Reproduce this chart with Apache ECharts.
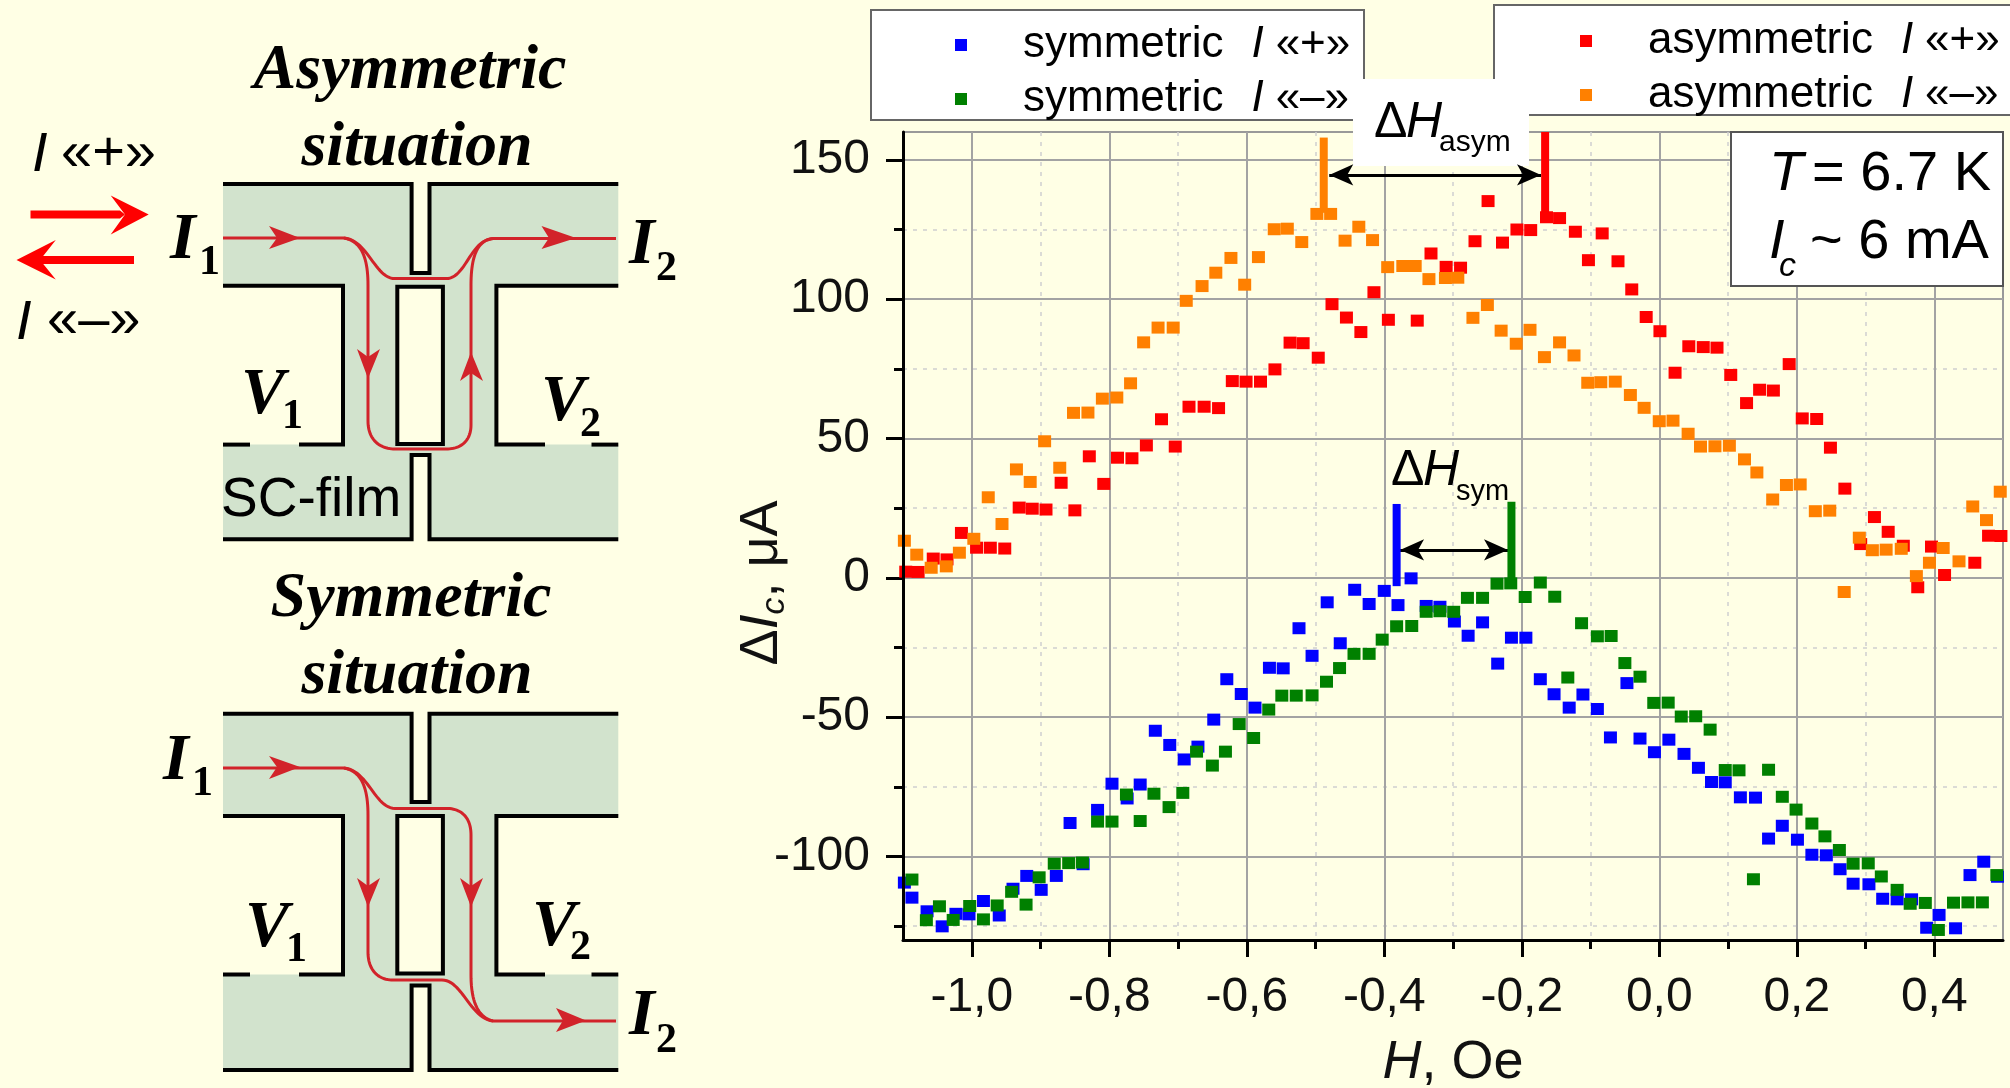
<!DOCTYPE html>
<html>
<head>
<meta charset="utf-8">
<style>html,body{margin:0;padding:0;background:#FFFFE5}#c{width:2010px;height:1088px}</style>
<script src="https://cdn.jsdelivr.net/npm/echarts@6/dist/echarts.min.js"></script>
</head>
<body>
<div id="c"></div>
<script>
const xMajorTicks = [-1.0,-0.8,-0.6,-0.4,-0.2,0.0,0.2,0.4];
const xMinorTicks = [-0.9,-0.7,-0.5,-0.3,-0.1,0.1,0.3];
const yMajorTicks = [-100,-50,0,50,100,150];
const yMinorTicks = [-125,-75,-25,25,75,125];

const symPlus = [[-1.098,-109.4],[-1.087,-114.8],[-1.065,-119.7],[-1.043,-125.1],[-1.023,-120.6],[-1.004,-120.8],[-0.983,-116],[-0.960,-121.2],[-0.940,-111.6],[-0.920,-107],[-0.899,-112],[-0.877,-107],[-0.857,-88],[-0.838,-102.8],[-0.817,-83.3],[-0.796,-73.9],[-0.774,-79.2],[-0.755,-74.2],[-0.733,-54.9],[-0.712,-60],[-0.691,-65.2],[-0.671,-60.6],[-0.648,-50.9],[-0.629,-36.4],[-0.608,-41.7],[-0.588,-46.6],[-0.567,-32.3],[-0.547,-32.5],[-0.524,-18.1],[-0.505,-28],[-0.483,-8.8],[-0.464,-23.5],[-0.443,-4.3],[-0.422,-9.4],[-0.400,-4.7],[-0.380,-9.8],[-0.361,-0.2],[-0.339,-10.1],[-0.319,-10.4],[-0.298,-15.7],[-0.278,-20.8],[-0.257,-16],[-0.235,-30.8],[-0.215,-21.5],[-0.194,-21.5],[-0.173,-36.4],[-0.153,-41.8],[-0.131,-46.6],[-0.111,-41.9],[-0.090,-47.1],[-0.071,-57.3],[-0.047,-37.8],[-0.028,-57.7],[-0.007,-62.6],[0.014,-58.1],[0.036,-63.2],[0.057,-68.2],[0.076,-73.3],[0.096,-73.4],[0.118,-78.8],[0.140,-78.9],[0.159,-93.6],[0.179,-89],[0.201,-94],[0.222,-99.4],[0.243,-99.6],[0.263,-104.6],[0.282,-109.8],[0.305,-110],[0.325,-115.2],[0.346,-115.4],[0.367,-115.4],[0.389,-125.6],[0.407,-121],[0.431,-125.8],[0.452,-106.7],[0.472,-101.9],[0.492,-107.3]];
const symMinus = [[-1.087,-108.3],[-1.066,-122.9],[-1.047,-117.9],[-1.027,-122.8],[-1.003,-117.8],[-0.983,-122.6],[-0.963,-117.6],[-0.942,-112.7],[-0.921,-117.3],[-0.902,-107.5],[-0.880,-102.6],[-0.859,-102.4],[-0.839,-102.2],[-0.817,-87.5],[-0.796,-87.5],[-0.775,-77.8],[-0.755,-87.3],[-0.735,-77.5],[-0.713,-82.3],[-0.693,-77.2],[-0.673,-62.4],[-0.650,-67.4],[-0.631,-62.4],[-0.611,-52.5],[-0.590,-57.5],[-0.568,-47.3],[-0.549,-42.3],[-0.528,-42.3],[-0.505,-42.2],[-0.484,-37.3],[-0.465,-32.4],[-0.444,-27.3],[-0.422,-27.3],[-0.403,-22.2],[-0.382,-17.4],[-0.360,-17.3],[-0.339,-12.2],[-0.319,-12],[-0.299,-12.2],[-0.279,-7.2],[-0.257,-7.2],[-0.236,-2.1],[-0.216,-2],[-0.195,-6.9],[-0.173,-1.7],[-0.152,-6.8],[-0.133,-35.8],[-0.113,-16.3],[-0.090,-21],[-0.070,-20.9],[-0.050,-30.6],[-0.028,-35.5],[-0.008,-44.9],[0.013,-44.8],[0.032,-49.8],[0.053,-49.7],[0.074,-54.5],[0.096,-69],[0.116,-69.1],[0.137,-108.2],[0.159,-68.9],[0.179,-78.6],[0.199,-83.2],[0.222,-88.2],[0.241,-92.8],[0.262,-97.7],[0.282,-102.6],[0.304,-102.5],[0.323,-107.2],[0.346,-112],[0.365,-117],[0.387,-116.7],[0.406,-126.4],[0.428,-116.6],[0.449,-116.5],[0.470,-116.5],[0.491,-106.7]];
const asymPlus = [[-1.096,2.2],[-1.078,2.1],[-1.056,6.9],[-1.036,6.6],[-1.015,16.1],[-0.993,10.8],[-0.973,10.8],[-0.952,10.5],[-0.931,25.2],[-0.912,24.8],[-0.892,24.5],[-0.870,34.1],[-0.850,24.2],[-0.829,43.6],[-0.808,33.7],[-0.788,43.1],[-0.767,42.9],[-0.746,47.5],[-0.724,56.9],[-0.704,47.1],[-0.684,61.4],[-0.662,61.4],[-0.641,60.9],[-0.621,70.6],[-0.601,70.4],[-0.580,70.4],[-0.559,74.8],[-0.537,84.4],[-0.518,84.2],[-0.496,79],[-0.476,98.2],[-0.455,93.4],[-0.434,88.2],[-0.415,102.5],[-0.394,92.6],[-0.352,92.3],[-0.332,116.4],[-0.310,111.6],[-0.289,111.3],[-0.268,120.8],[-0.249,135.2],[-0.228,120.3],[-0.207,125],[-0.187,124.8],[-0.164,129.4],[-0.145,129.1],[-0.122,124.2],[-0.103,114],[-0.083,123.6],[-0.060,113.6],[-0.040,103.5],[-0.019,93.6],[0.001,88.5],[0.023,73.6],[0.043,83.1],[0.064,82.8],[0.084,82.6],[0.104,72.8],[0.127,62.7],[0.146,67.5],[0.166,67.2],[0.189,76.7],[0.208,57.2],[0.229,57],[0.249,46.7],[0.270,32],[0.293,12.1],[0.313,21.8],[0.333,16.5],[0.355,11.5],[0.376,-3.4],[0.396,11.2],[0.415,1],[0.459,5.4],[0.479,15.1],[0.497,15]];
const asymMinus = [[-1.098,13.3],[-1.080,8.3],[-1.059,3.6],[-1.037,4.1],[-1.018,9],[-0.997,14],[-0.976,28.9],[-0.956,19.3],[-0.935,38.9],[-0.915,34.4],[-0.894,49],[-0.872,39.5],[-0.852,59.2],[-0.831,59.3],[-0.810,64.3],[-0.789,64.7],[-0.769,69.8],[-0.750,84.5],[-0.729,89.8],[-0.707,89.8],[-0.688,99.4],[-0.665,104.7],[-0.645,109.5],[-0.623,114.8],[-0.603,105.2],[-0.583,115.1],[-0.560,125.1],[-0.541,125.3],[-0.520,120.5],[-0.498,130.6],[-0.478,130.6],[-0.457,121],[-0.437,126],[-0.417,121.2],[-0.395,111.5],[-0.373,111.9],[-0.355,111.9],[-0.335,107.2],[-0.311,107.6],[-0.293,107.7],[-0.271,93.3],[-0.250,97.9],[-0.230,88.7],[-0.208,84],[-0.188,89],[-0.167,79.2],[-0.145,84.5],[-0.124,79.8],[-0.104,70],[-0.085,70.2],[-0.064,70.4],[-0.042,65.6],[-0.022,61],[0,56.2],[0.020,56.4],[0.042,51.7],[0.060,47.1],[0.081,47.2],[0.102,47.4],[0.124,42.5],[0.142,37.8],[0.165,28.1],[0.185,33.3],[0.205,33.5],[0.227,23.9],[0.248,24.1],[0.269,-5.1],[0.291,14.4],[0.310,9.9],[0.330,10.1],[0.352,10.4],[0.374,0.6],[0.393,5.4],[0.413,10.7],[0.436,5.9],[0.456,25.6],[0.476,20.7],[0.496,30.9]];

const barAsymMinus = [[-0.488,131],[-0.488,158]];
const barAsymPlus = [[-0.166,128],[-0.166,160]];
const barSymPlus = [[-0.382,-3],[-0.382,26.5]];
const barSymMinus = [[-0.215,-3.8],[-0.215,27.3]];
const spanAsym = [[-0.480,144.6],[-0.172,144.6]];
const spanSym = [[-0.377,10],[-0.220,10]];

const BG = '#FFFFE5', FILM = '#D2E3CD', CURRENT = '#D2232A', ARROW = '#FF0000';
const SANS = '"Liberation Sans", Arial, sans-serif', SERIF = '"Liberation Serif", "Times New Roman", serif';

function txt(text, x, base, size, opt) {
  opt = opt || {};
  return { type:'text', z:20, silent:true, style:{
    text, x, y: base - 0.27*size,
    fill: '#000', textAlign: opt.align||'left', textVerticalAlign:'middle',
    fontFamily: opt.family||SANS, fontSize:size,
    fontStyle: opt.italic?'italic':'normal', fontWeight: opt.bold?'bold':'normal' } };
}
// minimal path flattening: the graphic component has polygons and polylines only
function subpaths(d) {
  const toks = d.match(/[MHVLCZ]|-?[\d.]+/g), subs = [];
  let i = 0, cur = null, x = 0, y = 0, cmd = null;
  const num = () => parseFloat(toks[i++]);
  while (i < toks.length) {
    if (/[A-Z]/.test(toks[i])) cmd = toks[i++];
    if (cmd === 'M') { x = num(); y = num(); cur = {pts:[[x,y]], closed:false}; subs.push(cur); cmd = 'L'; }
    else if (cmd === 'L') { x = num(); y = num(); cur.pts.push([x,y]); }
    else if (cmd === 'H') { x = num(); cur.pts.push([x,y]); }
    else if (cmd === 'V') { y = num(); cur.pts.push([x,y]); }
    else if (cmd === 'C') {
      const a=num(),b=num(),c=num(),e=num(),f=num(),g=num();
      for (let t=1;t<=24;t++){ const s=t/24,u=1-s;
        cur.pts.push([u*u*u*x+3*u*u*s*a+3*u*s*s*c+s*s*s*f, u*u*u*y+3*u*u*s*b+3*u*s*s*e+s*s*s*g]); }
      x=f; y=g;
    }
    else if (cmd === 'Z') { cur.closed = true; }
  }
  return subs;
}
function path(d, fill, stroke, lw) {
  return subpaths(d).map(s => ({
    type: fill ? 'polygon' : 'polyline', z:3, silent:true,
    shape:{points:s.pts},
    style:{fill:fill||'none', stroke:stroke||'none', lineWidth:lw||0, lineJoin:'miter'} }));
}
function box(x,y,w,h,fill,stroke,lw) {
  return { type:'rect', z:3, silent:true, shape:{x,y,width:w,height:h}, style:{fill, stroke:stroke||'none', lineWidth:stroke?(lw||2):0} };
}
function head(pts){ return path('M'+pts.map(p=>p.join(',')).join(' L')+' Z', CURRENT); }
function serifI(sym, sub, x, base, subx, subbase) {
  return [ txt(sym, x, base, 66, {family:SERIF, italic:true, bold:true}),
           txt(sub, subx, subbase, 42, {family:SERIF, bold:true}) ];
}
function schematic(top, bandBot, lowTop, slit1, slit2, bottom, rectTop, rectBot) {
  const fill = `M223,${top} H411.6 V${slit1} H429.5 V${top} H618.3 V${bandBot} H496.4 V${lowTop} H618.3 V${bottom} H429.5 V${slit2} H411.6 V${bottom} H223 V${lowTop} H343 V${bandBot} H223 Z`;
  const s = `M223,${top} H411.6 V${slit1} H429.5 V${top} H618.3 M618.3,${bandBot} H496.4 V${lowTop} H545 M591.5,${lowTop} H618.3 M223,${bottom} H411.6 V${slit2} H429.5 V${bottom} H618.3 M223,${bandBot} H343 V${lowTop} H299 M250,${lowTop} H223`;
  return [].concat(path(fill, FILM), [box(397.3,rectTop,45.6,rectBot-rectTop,BG,'#000',4)], path(s, null, '#000', 4));
}

const graphics = [].concat(
  [ box(871,10,493,110,'#fff','#666'), box(1494,5,530,110,'#fff','#666'),
    box(1353,79,176,87,'#fff'), box(1731,132,272,154,'#fff','#555') ],
  [ txt('T', 1769,190,56,{italic:true}), txt('= 6.7 K', 1812,190,56),
    txt('I', 1769,258,56,{italic:true}), txt('c', 1779,276,34,{italic:true}), txt('~ 6 mA', 1810,258,56),
    txt('Δ', 1374,137,50), txt('H', 1406,137,50,{italic:true}), txt('asym', 1439,151,30),
    txt('Δ', 1391,485,50), txt('H', 1423,485,50,{italic:true}), txt('sym', 1456,500,29) ],
  [ txt('Asymmetric', 410,88.6,64,{family:SERIF,italic:true,bold:true,align:'center'}),
    txt('situation', 417,166,64,{family:SERIF,italic:true,bold:true,align:'center'}) ],
  schematic(184,285.7,444.6,273,455,539.3,286.8,444),
  path('M223,238 H344 C368,240 375,278.6 395,278.6 H446 C466,278.6 470,240 493,238.6 H616',null,CURRENT,3),
  path('M344,238 C360,241 368,255 368,285 V421 C368,440 380,449 395,449 H446 C462,449 471,440 471,425 V285 C471,255 478,240 493,238.6',null,CURRENT,3),
  head([[300,238],[269,226],[277,238],[269,249]]), head([[576,238],[541.5,226],[549,238],[541.5,249]]),
  head([[368,378.6],[357,349],[368,357],[380,349]]), head([[471,352],[460,381],[471,373],[483,381]]),
  path('M30.5,210.5 H120 L125,214.6 L120,218.5 H30.5 Z',ARROW),
  path('M148.7,214.6 L110.7,195.4 L125,214.6 L110.7,234.6 Z',ARROW),
  path('M134,256 H40 L40,264 H134 Z',ARROW),
  path('M16.5,260 L55.8,240 L40,260 L55.8,279.6 Z',ARROW),
  [ txt('I',32,171,56,{italic:true}), txt('«+»',61,170,56),
    txt('I',16,339,56,{italic:true}), txt('«–»',47,337,56),
    txt('SC-film',221,516,55) ],
  serifI('I','1',170,259,199,274), serifI('I','2',629,264,656,280),
  serifI('V','1',241,414,282,428), serifI('V','2',541,421,580,436),
  [ txt('Symmetric', 411,617,64,{family:SERIF,italic:true,bold:true,align:'center'}),
    txt('situation', 417,694,64,{family:SERIF,italic:true,bold:true,align:'center'}) ],
  schematic(713.7,816,974.5,802,985.6,1070,816,973.4),
  path('M223,768 H344 C368,770 375,808.4 395,808.4 H446 C462,808.4 471,818 471,835 V975 C471,1005 480,1018 493,1021 H616',null,CURRENT,3),
  path('M344,768 C360,771 368,785 368,815 V952 C368,970 378,980 393,980 H442 C462,980 470,1018 493,1021',null,CURRENT,3),
  head([[300,767],[269,756],[277,767],[269,779]]), head([[586,1020.6],[556,1008],[563,1020.6],[556,1032]]),
  head([[368,907],[357,878],[368,886],[380,878]]), head([[471,907],[460,878],[471,886],[483,878]]),
  serifI('I','1',163,779.4,192,795), serifI('I','2',629,1034.6,656,1052),
  serifI('V','1',245,947,286,961), serifI('V','2',532,945.5,570,959)
);

function points(name, data, color, z) {
  return { name, type:'scatter', data, symbol:'rect', symbolSize:[13,12], z, silent:true,
           itemStyle:{color, opacity:1} };
}
function bar(data, color) {
  return { type:'line', data, symbol:'none', silent:true, z:6, clip:false, lineStyle:{color, width:8, cap:'butt'} };
}
function span(data) {
  return { type:'line', data:[], silent:true, z:7, symbol:'none', markLine:{ silent:true, animation:false, symbol:['arrow','arrow'], symbolSize:[16,24], label:{show:false},
    lineStyle:{color:'#000', width:3, type:'solid'}, data:[[{coord:data[0]},{coord:data[1]}]] } };
}

const legendRich = {
  a:{fontFamily:SANS, fontSize:44, color:'#000'},
  i:{fontFamily:SANS, fontSize:44, fontStyle:'italic', color:'#000'},
  sp:{fontSize:44, width:28},
  sq:{fontSize:44, width:12}
};
function legendFmt(n){ const p = n.split(' '); return `{a|${p[0]}}{sp| }{i|${p[1]}}{sq| }{a|${p[2]}}`; }
const legendBase = { orient:'vertical', itemWidth:12, itemHeight:12, itemGap:10, icon:'rect', selectedMode:false, padding:0, z:5,
  formatter:legendFmt, textStyle:{rich:legendRich, padding:[0,0,0,51]} };

const tickFont = {fontFamily:SANS, fontSize:48, color:'#111'};
const frameLine = {show:true,onZero:false,lineStyle:{color:'#000',width:3}};
const option = {
  animation:false,
  backgroundColor:BG,
  grid:{left:903, top:132, width:1100, height:808, show:true, backgroundColor:BG, borderColor:'#999', borderWidth:2, outerBoundsMode:'none'},
  graphic:{elements:graphics},
  legend:[
    Object.assign({}, legendBase, {left:955, top:23, data:['symmetric I «+»','symmetric I «–»']}),
    Object.assign({}, legendBase, {left:1580, top:19, data:['asymmetric I «+»','asymmetric I «–»']})
  ],
  xAxis:[
    { type:'value', min:-1.1, max:0.5, position:'bottom', z:1,
      name:'{i|H}{n|, Oe}', nameLocation:'middle', nameGap:96, nameMoveOverlap:false,
      nameTextStyle:{rich:{i:{fontFamily:SANS,fontSize:54,fontStyle:'italic',color:'#111'},n:{fontFamily:SANS,fontSize:54,color:'#111'}}},
      axisLine:{show:false,onZero:false},
      axisTick:{show:true,length:17,customValues:xMajorTicks,lineStyle:{color:'#000',width:3}},
      axisLabel:Object.assign({show:true,margin:34,hideOverlap:false,customValues:xMajorTicks,
        formatter:v=>v.toFixed(1).replace('.',',')},tickFont),
      splitLine:{show:true,lineStyle:{color:'#A3A3A3',width:2,type:'solid'}} },
    { type:'value', min:-1.1, max:0.5, position:'bottom', z:0,
      axisLine:{show:false,onZero:false}, axisLabel:{show:false},
      axisTick:{show:true,length:9,customValues:xMinorTicks,lineStyle:{color:'#000',width:3}},
      splitLine:{show:true,lineStyle:{color:'#CFCFCF',width:1.5,type:[4,6]}} },
    { type:'value', min:-1.1, max:0.5, position:'bottom', z:8,
      axisLine:frameLine, axisLabel:{show:false}, axisTick:{show:false}, splitLine:{show:false} }
  ],
  yAxis:[
    { type:'value', min:-130, max:160, position:'left', z:1,
      name:'{n|Δ}{i|I}{s|c}{n|, μA}', nameLocation:'middle', nameGap:111, nameRotate:90, nameMoveOverlap:false,
      nameTextStyle:{padding:[0,94,0,0],rich:{
        n:{fontFamily:SANS,fontSize:54,color:'#111'},
        i:{fontFamily:SANS,fontSize:54,fontStyle:'italic',color:'#111'},
        s:{fontFamily:SANS,fontSize:34,fontStyle:'italic',color:'#111',verticalAlign:'bottom',padding:[26,0,0,0]}}},
      axisLine:{show:false,onZero:false},
      axisTick:{show:true,length:17,customValues:yMajorTicks,lineStyle:{color:'#000',width:3}},
      axisLabel:Object.assign({show:true,margin:33,hideOverlap:false,customValues:yMajorTicks},tickFont),
      splitLine:{show:true,lineStyle:{color:'#A3A3A3',width:2,type:'solid'}} },
    { type:'value', min:-130, max:160, position:'left', z:0,
      axisLine:{show:false,onZero:false}, axisLabel:{show:false},
      axisTick:{show:true,length:9,customValues:yMinorTicks,lineStyle:{color:'#000',width:3}},
      splitLine:{show:true,lineStyle:{color:'#CFCFCF',width:1.5,type:[4,6]}} },
    { type:'value', min:-130, max:160, position:'left', z:8,
      axisLine:frameLine, axisLabel:{show:false}, axisTick:{show:false}, splitLine:{show:false} }
  ],
  series:[
    points('symmetric I «+»', symPlus, '#0000FF', 2),
    points('symmetric I «–»', symMinus, '#008000', 3),
    points('asymmetric I «+»', asymPlus, '#FF0000', 4),
    points('asymmetric I «–»', asymMinus, '#FF8000', 5),
    bar(barAsymMinus,'#FF8000'), bar(barAsymPlus,'#FF0000'),
    bar(barSymPlus,'#0000FF'), bar(barSymMinus,'#008000'),
    span(spanAsym), span(spanSym)
  ]
};
const chart = echarts.init(document.getElementById('c'), null, {width:2010, height:1088});
chart.setOption(option);
</script>
</body>
</html>
